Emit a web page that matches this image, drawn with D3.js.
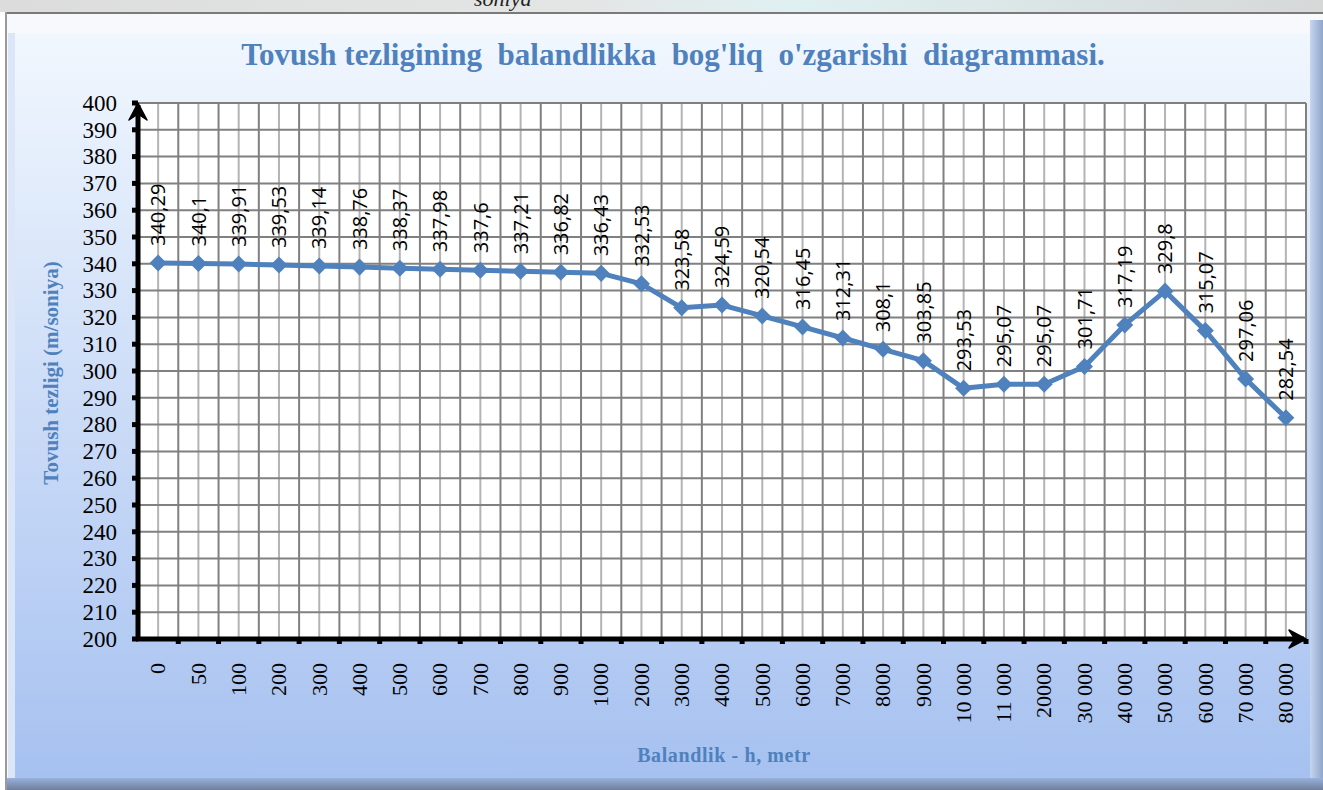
<!DOCTYPE html>
<html>
<head>
<meta charset="utf-8">
<script src="https://cdn.jsdelivr.net/npm/d3@7"></script>
<style>
  html, body { margin: 0; padding: 0; background: #ffffff; }
  #chart svg { display: block; }
</style>
</head>
<body>
<div id="chart"></div>
<script>
// categories (altitude, m) and speed of sound values
var heights = ['0','50','100','200','300','400','500','600','700','800','900','1000',
  '2000','3000','4000','5000','6000','7000','8000','9000',
  '10 000','11 000','20000','30 000','40 000','50 000','60 000','70 000','80 000'];
var speeds = [340.29, 340.1, 339.91, 339.53, 339.14, 338.76, 338.37, 337.98, 337.6, 337.21, 336.82, 336.43,
  332.53, 323.58, 324.59, 320.54, 316.45, 312.31, 308.1, 303.85,
  293.53, 295.07, 295.07, 301.71, 317.19, 329.8, 315.07, 297.06, 282.54];
var yTicks = d3.range(200, 401, 10);

var titleText = "Tovush tezligining  balandlikka  bog'liq  o'zgarishi  diagrammasi.";
var yTitle = 'Tovush tezligi (m/soniya)';
var xTitle = 'Balandlik - h, metr';

var lineColor = '#4f81bd';
var titleColor = '#4f81bd';

var width = 1323, height = 790;
var margin = {top: 103, right: 17, bottom: 151, left: 138};

var svg = d3.select('#chart').append('svg')
  .attr('width', width)
  .attr('height', height)
  .attr('viewBox', `0 0 ${width} ${height}`);

var defs = svg.append('defs');
var bg = defs.append('linearGradient').attr('id', 'bg').attr('x1', 0).attr('y1', 0).attr('x2', 0).attr('y2', 1);
bg.append('stop').attr('offset', '0%').attr('stop-color', '#f1f7fe');
bg.append('stop').attr('offset', '100%').attr('stop-color', '#a6c1f0');

var topStrip = defs.append('linearGradient').attr('id', 'strip').attr('x1', 0).attr('y1', 0).attr('x2', 1).attr('y2', 0);
topStrip.append('stop').attr('offset', '0%').attr('stop-color', '#dcdcdc');
topStrip.append('stop').attr('offset', '45%').attr('stop-color', '#e4e6e6');
topStrip.append('stop').attr('offset', '60%').attr('stop-color', '#dff0f2');
topStrip.append('stop').attr('offset', '100%').attr('stop-color', '#d6d8d8');

var rightBevel = defs.append('linearGradient').attr('id', 'rbev').attr('x1', 0).attr('y1', 0).attr('x2', 1).attr('y2', 0);
rightBevel.append('stop').attr('offset', '0%').attr('stop-color', '#c6d6ef');
rightBevel.append('stop').attr('offset', '100%').attr('stop-color', '#8fa6cc');

var botBevel = defs.append('linearGradient').attr('id', 'bbev').attr('x1', 0).attr('y1', 0).attr('x2', 0).attr('y2', 1);
botBevel.append('stop').attr('offset', '0%').attr('stop-color', '#98b2dc');
botBevel.append('stop').attr('offset', '100%').attr('stop-color', '#6f7f99');

// page background above the frame (cut picture)
svg.append('rect').attr('x', 0).attr('y', 0).attr('width', width).attr('height', 12).attr('fill', 'url(#strip)');
svg.append('text')
  .attr('x', 474).attr('y', 6)
  .attr('font-family', 'Liberation Serif')
  .attr('font-style', 'italic')
  .attr('font-size', '22px')
  .attr('fill', '#222')
  .text('soniya');

// frame
svg.append('rect').attr('x', 5).attr('y', 12).attr('width', width - 5).attr('height', height - 12).attr('fill', '#f7f9fc');
svg.append('rect').attr('x', 15).attr('y', 33).attr('width', 1295).attr('height', 745).attr('fill', 'url(#bg)');
svg.append('rect').attr('x', 1310).attr('y', 20).attr('width', 13).attr('height', 770).attr('fill', 'url(#rbev)');
svg.append('rect').attr('x', 5).attr('y', 778).attr('width', width - 5).attr('height', 12).attr('fill', 'url(#bbev)');
svg.append('rect').attr('x', 8).attr('y', 33).attr('width', 7).attr('height', 745).attr('fill', '#dbe6f8');
svg.append('line').attr('x1', 5).attr('x2', width).attr('y1', 13).attr('y2', 13).attr('stroke', '#7a7a7a').attr('stroke-width', 2);
svg.append('line').attr('x1', 6).attr('x2', 6).attr('y1', 12).attr('y2', height).attr('stroke', '#9a9a9a').attr('stroke-width', 2);

var x = d3.scaleBand()
  .domain(heights)
  .range([margin.left, width - margin.right])
  .padding(0);

var y = d3.scaleLinear()
  .domain([200, 400])
  .range([height - margin.bottom, margin.top]);

// plot area
svg.append('rect')
  .attr('x', x.range()[0]).attr('y', y(400))
  .attr('width', x.range()[1] - x.range()[0]).attr('height', y(200) - y(400))
  .attr('fill', '#ffffff');

// grid: light lines at category centres, dark at boundaries and every 10
svg.append('g')
  .selectAll('line')
  .data(heights)
  .join('line')
  .attr('x1', d => x(d) + x.bandwidth() / 2)
  .attr('x2', d => x(d) + x.bandwidth() / 2)
  .attr('y1', y(400)).attr('y2', y(200))
  .attr('stroke', '#b4b4b4').attr('stroke-width', 2);

svg.append('g')
  .selectAll('line')
  .data(heights.slice(1).concat(['__end']))
  .join('line')
  .attr('x1', d => d === '__end' ? x.range()[1] : x(d))
  .attr('x2', d => d === '__end' ? x.range()[1] : x(d))
  .attr('y1', y(400)).attr('y2', y(200))
  .attr('stroke', '#808080').attr('stroke-width', 2);

svg.append('g')
  .selectAll('line')
  .data(yTicks.filter(d => d > 200))
  .join('line')
  .attr('x1', x.range()[0]).attr('x2', x.range()[1])
  .attr('y1', d => y(d)).attr('y2', d => y(d))
  .attr('stroke', '#808080').attr('stroke-width', 2);

// y axis
var yAxis = g => g
  .attr('transform', `translate(${x.range()[0]},0)`)
  .call(d3.axisLeft(y).tickValues(yTicks).tickSize(0).tickPadding(21))
  .call(g => g.select('.domain').remove())
  .call(g => g.selectAll('.tick text')
    .attr('font-family', 'Liberation Serif')
    .attr('font-size', '23px')
    .attr('fill', '#000'));

svg.append('g').call(yAxis);

// x axis
var xAxis = g => g
  .attr('transform', `translate(0,${y(200)})`)
  .call(d3.axisBottom(x).tickSize(0).tickPadding(0))
  .call(g => g.select('.domain').remove())
  .call(g => g.selectAll('.tick text')
    .attr('font-family', 'Liberation Serif')
    .attr('font-size', '22px')
    .attr('fill', '#000')
    .attr('text-anchor', 'end')
    .attr('dy', '0.33em')
    .attr('transform', 'translate(0,24) rotate(-90)'));

svg.append('g').call(xAxis);

// thick axis lines with arrows and tick marks
svg.append('g')
  .selectAll('rect')
  .data(yTicks)
  .join('rect')
  .attr('x', x.range()[0] - 6).attr('y', d => y(d) - 2.5)
  .attr('width', 6).attr('height', 5)
  .attr('fill', '#000');

svg.append('g')
  .selectAll('rect')
  .data(heights.slice(1).concat(['__end']))
  .join('rect')
  .attr('x', d => (d === '__end' ? x.range()[1] : x(d)) - 2.5)
  .attr('y', y(200))
  .attr('width', 5).attr('height', 5)
  .attr('fill', '#000');

svg.append('line')
  .attr('x1', x.range()[0]).attr('x2', x.range()[0])
  .attr('y1', y(200) + 2).attr('y2', y(400) + 2)
  .attr('stroke', '#000').attr('stroke-width', 5);
svg.append('line')
  .attr('x1', x.range()[0] - 2).attr('x2', x.range()[1] - 2)
  .attr('y1', y(200)).attr('y2', y(200))
  .attr('stroke', '#000').attr('stroke-width', 5);

var ax = x.range()[0], ay = y(400);
svg.append('path')
  .attr('d', `M${ax},${ay} L${ax + 9},${ay + 17} L${ax},${ay + 11} L${ax - 9},${ay + 17} Z`)
  .attr('fill', '#000').attr('stroke', '#000').attr('stroke-width', 1.5).attr('stroke-linejoin', 'round');
var bx = x.range()[1], by = y(200);
svg.append('path')
  .attr('d', `M${bx},${by} L${bx - 17},${by - 9} L${bx - 11},${by} L${bx - 17},${by + 9} Z`)
  .attr('fill', '#000').attr('stroke', '#000').attr('stroke-width', 1.5).attr('stroke-linejoin', 'round');

// series
var points = heights.map((h, i) => ({h: h, v: speeds[i]}));

svg.append('path')
  .datum(points)
  .attr('fill', 'none')
  .attr('stroke', lineColor)
  .attr('stroke-width', 5)
  .attr('stroke-linejoin', 'round')
  .attr('d', d3.line().x(d => x(d.h) + x.bandwidth() / 2).y(d => y(d.v)));

svg.append('g')
  .selectAll('path')
  .data(points)
  .join('path')
  .attr('transform', d => `translate(${x(d.h) + x.bandwidth() / 2},${y(d.v)})`)
  .attr('d', d3.symbol(d3.symbolDiamond2, 185))
  .attr('fill', lineColor);

// data labels
svg.append('g')
  .selectAll('text')
  .data(points)
  .join('text')
  .attr('transform', d => `translate(${x(d.h) + x.bandwidth() / 2},${y(d.v) - 17}) rotate(-90)`)
  .attr('dy', '0.36em')
  .attr('font-family', 'Open Sans')
  .attr('font-size', '20px')
  .attr('fill', '#000')
  .text(d => String(d.v).replace('.', ','));

// titles
svg.append('text')
  .attr('x', 673).attr('y', 65)
  .attr('text-anchor', 'middle')
  .attr('font-family', 'Liberation Serif')
  .attr('font-weight', 'bold')
  .attr('font-size', '31px')
  .attr('fill', titleColor)
  .attr('xml:space', 'preserve')
  .style('white-space', 'pre')
  .text(titleText);

svg.append('text')
  .attr('transform', 'translate(58,373) rotate(-90)')
  .attr('text-anchor', 'middle')
  .attr('font-family', 'Liberation Serif')
  .attr('font-weight', 'bold')
  .attr('font-size', '21px')
  .attr('fill', titleColor)
  .text(yTitle);

svg.append('text')
  .attr('x', 724).attr('y', 762)
  .attr('text-anchor', 'middle')
  .attr('font-family', 'Liberation Serif')
  .attr('font-weight', 'bold')
  .attr('font-size', '20px')
  .attr('letter-spacing', '0.6px')
  .attr('fill', titleColor)
  .text(xTitle);
</script>
</body>
</html>
